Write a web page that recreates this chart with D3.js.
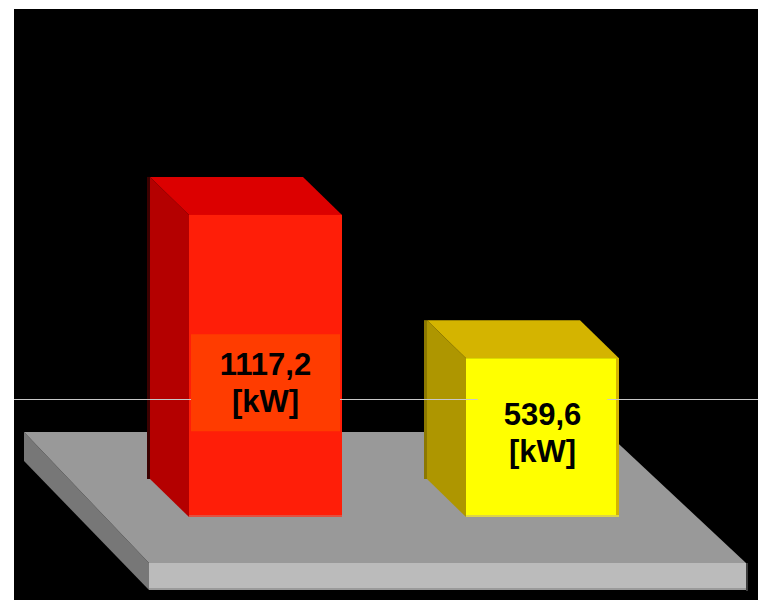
<!DOCTYPE html>
<html>
<head>
<meta charset="utf-8">
<script src="https://cdn.jsdelivr.net/npm/d3@7"></script>
<style>
  html, body { margin: 0; padding: 0; background: #fff; }
  svg { display: block; }
</style>
</head>
<body>
<svg id="chart"></svg>
<script>
// chart data
const categories = ["A", "B"];
const values = [1117.2, 539.6];
const units = ["[kW]", "[kW]"];
const refLine = [374];

const palette = {
  A: { top: "#dc0000", side: "#b40000", edge: "#3c0000", front: "#ff1e08", band: "#ff3c00", foot: "#e25040", rim: "#ff1e08" },
  B: { top: "#d4b400", side: "#ae9600", edge: "#8c7800", front: "#ffff00", band: "#ffff00", foot: "#dcd448", rim: "#d4b400" }
};

const width = 758, height = 600;
const svg = d3.select("#chart").attr("width", width).attr("height", height);

// black plot area
svg.append("rect").attr("x", 14).attr("y", 9).attr("width", width - 14).attr("height", height - 9).attr("fill", "#000");

const y = d3.scaleLinear().domain([0, 1200]).range([492, 194.4]);
const x = d3.scalePoint().domain(categories).range([265.5, 542.5]);
const barW = 153;
const depthX = 39, depthY = 38;
const base = y(0) + 25;   // bars sink into the floor

const pts = p => p.map(d => d.join(",")).join(" ");

// floor slab
const floor = svg.append("g");
const fTop = base - 85, fFront = base + 46, fThick = 27;
floor.append("polygon").attr("points", pts([[24, fTop], [24, fTop + 29], [149, fFront + fThick], [149, fFront]])).attr("fill", "#777");
floor.append("polygon").attr("points", pts([[24, fTop], [606, fTop], [746, fFront], [149, fFront]])).attr("fill", "#999");
floor.append("rect").attr("x", 149).attr("y", fFront).attr("width", 597).attr("height", fThick).attr("fill", "#bbb");
floor.append("rect").attr("x", 149).attr("y", fFront + fThick - 2).attr("width", 597).attr("height", 2).attr("fill", "#9a9a9a");
floor.append("rect").attr("x", 746).attr("y", fFront).attr("width", 2).attr("height", fThick + 1).attr("fill", "#3c3c3c");

// 3d bars
const bars = svg.append("g").selectAll("g").data(categories).join("g");
bars.each(function (c, i) {
  const g = d3.select(this);
  const col = palette[c];
  const x0 = x(c) - barW / 2, x1 = x(c) + barW / 2;
  const yt = y(values[i]);
  g.append("polygon")
    .attr("points", pts([[x0 - depthX, yt - depthY], [x0, yt], [x0, base], [x0 - depthX, base - depthY]]))
    .attr("fill", col.side);
  g.append("rect").attr("x", x0 - depthX - 3).attr("y", yt - depthY).attr("width", 3).attr("height", base - yt)
    .attr("fill", col.edge);
  g.append("polygon")
    .attr("points", pts([[x0 - depthX, yt - depthY], [x1 - depthX, yt - depthY], [x1, yt], [x0, yt]]))
    .attr("fill", col.top);
  g.append("rect").attr("x", x0).attr("y", yt).attr("width", barW).attr("height", base - yt).attr("fill", col.front);
  g.append("rect").attr("x", x1 - 3).attr("y", yt).attr("width", 3).attr("height", base - yt).attr("fill", col.rim);
  g.append("rect").attr("x", x0).attr("y", base - 2).attr("width", barW).attr("height", 2).attr("fill", col.foot);
});

// reference line
svg.append("line")
  .attr("x1", 14).attr("x2", width)
  .attr("y1", Math.round(y(refLine[0])) + 0.5).attr("y2", Math.round(y(refLine[0])) + 0.5)
  .attr("stroke", "#c8c8c8").attr("stroke-width", 1);

// value labels
const fmt = v => d3.format(".1f")(v).replace(".", ",");
const labels = svg.append("g").selectAll("g").data(categories).join("g");
labels.each(function (c, i) {
  const g = d3.select(this);
  const yt = y(values[i]);
  const cy = Math.max((yt + base) / 2 - 6, y(refLine[0]) - 17);
  const band = g.append("rect").attr("fill", palette[c].band);
  const t = g.append("text")
    .attr("text-anchor", "middle")
    .attr("font-family", "'Liberation Sans', Arial, sans-serif")
    .attr("font-weight", "bold")
    .attr("font-size", 31)
    .attr("fill", "#000");
  t.append("tspan").attr("x", x(c)).attr("y", cy - 7).text(fmt(values[i]));
  t.append("tspan").attr("x", x(c)).attr("y", cy + 30).text(units[i]);
  const tw = t.node().getBBox().width;
  const bw = Math.min(tw * 1.67, barW - 4);
  band.attr("x", x(c) - bw / 2).attr("y", cy - 48).attr("width", bw).attr("height", 97);
});
</script>
</body>
</html>
